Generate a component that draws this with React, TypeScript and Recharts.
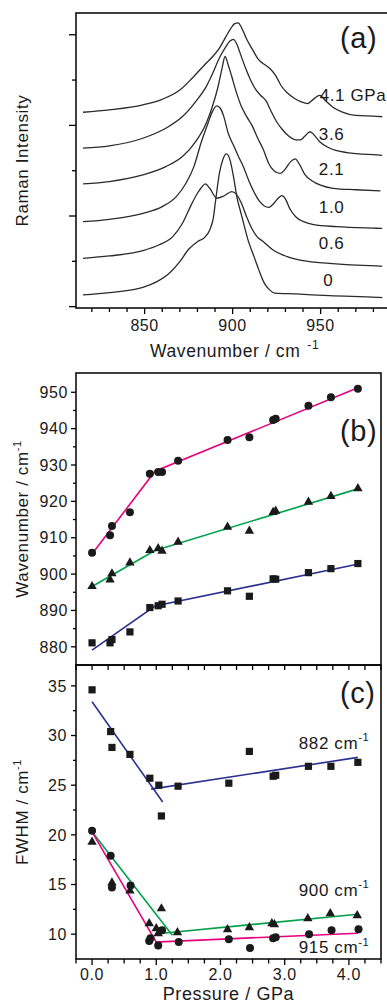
import React from 'react';
import {
  LineChart,
  ComposedChart,
  Line,
  Scatter,
  XAxis,
  YAxis,
  ReferenceArea,
  ReferenceDot,
} from 'recharts';

const FONT = '"Liberation Sans", Arial, Helvetica, sans-serif';
const INK = '#1a1a1a';
const PINK = '#e6007e';
const GREEN = '#00a14b';
const NAVY = '#2b3190';

// ---- (a) Raman spectra, stacked with offsets (wavenumber / cm-1, intensity in offset units)
const spec0Wn = [815, 830, 849, 857, 864, 870, 875, 880, 884, 887, 889, 890.5, 892.5, 894.5, 896.5, 898.5, 900.5, 902.5, 904.5, 906.5, 909, 912, 915, 918, 921, 924, 936, 955, 982, 985];
const spec0Int = [0.13, 0.155, 0.213, 0.276, 0.368, 0.497, 0.633, 0.717, 0.762, 0.846, 0.975, 1.196, 1.472, 1.626, 1.685, 1.62, 1.435, 1.2, 1.05, 0.9, 0.72, 0.56, 0.4, 0.26, 0.185, 0.15, 0.14, 0.121, 0.103, 0.1];

const spec06Wn = [815, 830, 849, 858, 866, 871.5, 876, 880, 883, 884.5, 887, 891, 895, 899.5, 902, 905, 908, 911, 914, 917.5, 923, 931, 940, 955, 982, 985];
const spec06Int = [0.533, 0.559, 0.618, 0.68, 0.773, 0.92, 1.104, 1.251, 1.332, 1.354, 1.306, 1.196, 1.221, 1.27, 1.244, 1.14, 0.99, 0.86, 0.77, 0.717, 0.625, 0.552, 0.508, 0.478, 0.449, 0.447];

const spec10Wn = [815, 830, 849, 860, 868, 873.5, 878, 882, 886, 888.5, 891, 893, 895, 897.5, 900.5, 903, 906, 909, 912, 915, 918, 920.5, 923, 926, 928, 930, 932.5, 936, 940, 946, 959, 982, 985];
const spec10Int = [0.938, 0.964, 1.03, 1.104, 1.214, 1.361, 1.545, 1.803, 2.024, 2.152, 2.215, 2.189, 2.097, 1.913, 1.78, 1.67, 1.55, 1.4, 1.27, 1.17, 1.11, 1.095, 1.13, 1.2, 1.225, 1.19, 1.08, 0.99, 0.94, 0.905, 0.883, 0.865, 0.863];

const spec21Wn = [815, 830, 849, 862, 871.5, 879, 885, 888.5, 891.5, 894, 895.7, 897.5, 899.5, 902, 905, 908, 911, 914, 917.5, 920.5, 923.5, 927, 930, 933, 935.5, 938, 941, 945, 950, 957, 970, 984];
const spec21Int = [1.354, 1.38, 1.453, 1.545, 1.656, 1.821, 2.024, 2.208, 2.41, 2.63, 2.76, 2.667, 2.539, 2.373, 2.208, 2.097, 2.0, 1.87, 1.73, 1.58, 1.5, 1.47, 1.52, 1.6, 1.63, 1.57, 1.46, 1.39, 1.34, 1.306, 1.29, 1.277];

const spec36Wn = [815, 830, 849, 862, 871.5, 879, 885, 888.7, 892.4, 896.2, 898.5, 900.4, 902.3, 904.2, 907, 910, 913, 916, 919, 922, 925, 928, 932, 936, 938.5, 941, 944, 946.5, 949.5, 955, 965, 982, 985];
const spec36Int = [1.748, 1.773, 1.858, 1.968, 2.097, 2.263, 2.428, 2.575, 2.741, 2.87, 2.93, 2.95, 2.9, 2.8, 2.65, 2.51, 2.4, 2.33, 2.27, 2.15, 2.04, 1.96, 1.88, 1.84, 1.84, 1.88, 1.93, 1.89, 1.82, 1.75, 1.7, 1.674, 1.67];

const spec41Wn = [815, 830, 849, 860, 870, 877, 884, 888.7, 892.4, 896.2, 899, 901, 903.2, 905, 908, 911.5, 914.5, 917.5, 921, 924.5, 927.5, 931, 935, 939, 942.5, 946, 949.5, 953, 957, 962, 970, 982, 985];
const spec41Int = [2.145, 2.171, 2.226, 2.288, 2.39, 2.52, 2.667, 2.76, 2.85, 2.98, 3.07, 3.12, 3.13, 3.08, 2.95, 2.83, 2.73, 2.68, 2.63, 2.55, 2.44, 2.36, 2.3, 2.26, 2.24, 2.29, 2.33, 2.27, 2.2, 2.15, 2.11, 2.1, 2.095];

const specLabels = ['0', '0.6', '1.0', '2.1', '3.6', '4.1 GPa'];
const specLabelWn = [951.5, 949, 949, 949, 949, 949.5];
const specLabelInt = [0.29, 0.7, 1.1, 1.52, 1.91, 2.34];

const wnTicks = [820, 830, 840, 850, 860, 870, 880, 890, 900, 910, 920, 930, 940, 950, 960, 970, 980];
const wnMajor = [850, 900, 950];
const intTicks = [0, 0.5, 1, 1.5, 2, 2.5, 3];
const intMajor = [0, 1, 2, 3];

// ---- (b) peak positions vs pressure
const pressB = [0, 0.28, 0.31, 0.59, 0.9, 1.03, 1.09, 1.34, 2.11, 2.45, 2.82, 2.86, 3.37, 3.72, 4.14];
const pos915 = [905.9, 910.7, 913.2, 917.0, 927.6, 928.1, 928.1, 931.2, 936.9, 937.6, 942.4, 942.7, 946.3, 948.6, 951.0];
const pos900 = [896.7, 898.5, 900.2, 903.2, 906.6, 907.1, 906.4, 908.9, 913.0, 911.9, 917.1, 917.4, 919.9, 921.5, 923.6];
const pos882 = [881.1, 881.1, 882.0, 884.1, 890.8, 891.3, 891.7, 892.6, 895.4, 893.9, 898.7, 898.6, 900.4, 901.5, 902.9];

const fitP = [0, 0.98, 4.15];
const fit915 = [905.5, 928.3, 951.3];
const fit900 = [896.6, 906.5, 923.5];
const fit882 = [879.1, 891.2, 902.8];

const posTicks = [880, 885, 890, 895, 900, 905, 910, 915, 920, 925, 930, 935, 940, 945, 950];
const posMajor = [880, 890, 900, 910, 920, 930, 940, 950];

// ---- (c) FWHM vs pressure
const pressW882 = [0, 0.29, 0.31, 0.59, 0.9, 1.04, 1.08, 1.34, 2.13, 2.45, 2.82, 2.86, 3.37, 3.72, 4.14];
const fwhm882 = [34.6, 30.4, 28.8, 28.1, 25.7, 25.0, 21.9, 24.9, 25.2, 28.4, 25.9, 26.0, 26.9, 26.9, 27.3];
const pressW900 = [0, 0.31, 0.59, 0.89, 1.0, 1.03, 1.08, 1.33, 2.11, 2.45, 2.8, 2.84, 3.36, 3.71, 4.13];
const fwhm900 = [19.3, 15.2, 14.4, 11.1, 10.6, 10.1, 12.6, 10.2, 10.5, 10.7, 11.1, 11.0, 11.6, 12.1, 11.9];
const pressW915 = [0, 0.29, 0.31, 0.6, 0.89, 0.91, 1.03, 1.09, 1.35, 2.13, 2.46, 2.82, 2.86, 3.38, 3.73, 4.15];
const fwhm915 = [20.4, 17.9, 14.7, 14.9, 9.3, 9.6, 8.85, 10.4, 9.2, 9.5, 8.6, 9.6, 9.7, 10.0, 10.4, 10.5];

const seg882aP = [0, 1.1];
const seg882a = [33.4, 23.3];
const seg882bP = [0.92, 4.14];
const seg882b = [24.6, 27.8];
const seg900aP = [0, 1.25];
const seg900a = [20.3, 9.9];
const seg900bP = [1.1, 4.14];
const seg900b = [10.1, 12.0];
const seg915aP = [0, 1.0];
const seg915a = [20.3, 9.2];
const seg915bP = [0.98, 4.14];
const seg915b = [9.2, 10.1];

const fwhmTicks = [10, 12.5, 15, 17.5, 20, 22.5, 25, 27.5, 30, 32.5, 35];
const fwhmMajor = [10, 15, 20, 25, 30, 35];
const pTicks = [-0.25, 0, 0.25, 0.5, 0.75, 1, 1.25, 1.5, 1.75, 2, 2.25, 2.5, 2.75, 3, 3.25, 3.5, 3.75, 4, 4.25, 4.5];
const pMajor = [0, 1, 2, 3, 4];

const zip = (xs: number[], ys: number[], xk: string) => xs.map((x, i) => ({ [xk]: x, v: ys[i] }));

const spectra = [
  zip(spec0Wn, spec0Int, 'w'),
  zip(spec06Wn, spec06Int, 'w'),
  zip(spec10Wn, spec10Int, 'w'),
  zip(spec21Wn, spec21Int, 'w'),
  zip(spec36Wn, spec36Int, 'w'),
  zip(spec41Wn, spec41Int, 'w'),
];

const isIn = (arr: number[], v: number) => arr.some(m => Math.abs(m - v) < 1e-6);

const textStyle = { fontFamily: FONT, fill: INK, letterSpacing: 0.6 } as const;

// axis ticks drawn by hand so majors and minors can have different lengths
const leftTick = (majors: number[], labelled: boolean, majorLen: number, minorLen: number, gap: number, fmt: (v: number) => string) =>
  (props: any) => {
    const { x, y, payload } = props;
    const v = payload.value;
    const major = isIn(majors, v);
    const len = major ? majorLen : minorLen;
    return (
      <g>
        <line x1={x} x2={x - len} y1={y} y2={y} stroke="#000" strokeWidth={1.3} />
        {major && labelled ? (
          <text x={x - majorLen - gap} y={y} dy="0.36em" textAnchor="end" fontSize={16} {...textStyle}>
            {fmt(v)}
          </text>
        ) : null}
      </g>
    );
  };

const bottomTick = (majors: number[], labelled: boolean, majorLen: number, minorLen: number, gap: number, fmt: (v: number) => string) =>
  (props: any) => {
    const { x, y, payload } = props;
    const v = payload.value;
    const major = isIn(majors, v);
    const len = major ? majorLen : minorLen;
    return (
      <g>
        <line x1={x} x2={x} y1={y} y2={y + len} stroke="#000" strokeWidth={1.3} />
        {major && labelled ? (
          <text x={x} y={y + majorLen + gap} dy="0.72em" textAnchor="middle" fontSize={16} {...textStyle}>
            {fmt(v)}
          </text>
        ) : null}
      </g>
    );
  };

const yTitle = (text: string, sup?: string) => (props: any) => {
  const vb = props.viewBox;
  const cx = vb.x + 22;
  const cy = vb.y + vb.height / 2;
  return (
    <text x={cx} y={cy} dy="0.36em" textAnchor="middle" transform={`rotate(-90 ${cx} ${cy})`} fontSize={17} {...textStyle}>
      {text}
      {sup ? <tspan dy={-7} fontSize={11}>{sup}</tspan> : null}
    </text>
  );
};

const note = (text: string, size: number, sup?: string) => (props: any) => {
  const { x, y } = props.viewBox;
  return (
    <text x={x} y={y} dy="0.36em" fontSize={size} {...textStyle}>
      {text}
      {sup ? <tspan dy={-size * 0.42} fontSize={size * 0.66}>{sup}</tspan> : null}
    </text>
  );
};

const Dotc = (p: any) => <circle cx={p.cx} cy={p.cy} r={4} fill={INK} />;
const Sq = (p: any) => <rect x={p.cx - 3.6} y={p.cy - 3.6} width={7.2} height={7.2} fill={INK} />;
const Tri = (p: any) => (
  <path d={`M${p.cx},${p.cy - 5.2} L${p.cx + 4.7},${p.cy + 3} L${p.cx - 4.7},${p.cy + 3} Z`} fill={INK} />
);

const SpectraPanel = () => {
  const xTitle = (props: any) => {
    const vb = props.viewBox;
    return (
      <text x={vb.x + 74} y={vb.y + 48.5} fontSize={17.5} {...textStyle}>
        Wavenumber / cm
        <tspan dx={7} dy={-8} fontSize={12}>-1</tspan>
      </text>
    );
  };
  return (
    <LineChart width={400} height={360} margin={{ top: 13, right: 9, bottom: 0, left: 0 }}>
      <XAxis
        type="number"
        dataKey="w"
        domain={[811, 990]}
        allowDataOverflow
        ticks={wnTicks}
        interval={0}
        tickSize={0}
        tickMargin={0}
        tickLine={false}
        axisLine={false}
        tick={bottomTick(wnMajor, true, 6, 4, 5, v => String(v))}
        height={52}
        label={xTitle}
      />
      <YAxis
        type="number"
        domain={[-0.015, 3.24]}
        allowDataOverflow
        ticks={intTicks}
        interval={0}
        tickSize={0}
        tickMargin={0}
        tickLine={false}
        axisLine={false}
        tick={leftTick(intMajor, false, 7, 4, 3, v => String(v))}
        width={76}
        label={yTitle('Raman Intensity')}
      />
      {spectra.map((d, i) => (
        <Line
          key={`spec-${i}`}
          data={d}
          dataKey="v"
          type="monotone"
          stroke="#2a2a2a"
          strokeWidth={1.3}
          dot={false}
          isAnimationActive={false}
        />
      ))}
      {specLabels.map((t, i) => (
        <ReferenceDot
          key={`lab-${i}`}
          x={specLabelWn[i]}
          y={specLabelInt[i]}
          r={0}
          ifOverflow="visible"
          label={note(t, 17)}
        />
      ))}
      <ReferenceDot x={961} y={2.97} r={0} ifOverflow="visible" label={note('(a)', 29)} />
      <ReferenceArea x1={811} x2={990} y1={-0.015} y2={3.24} fill="none" stroke="#000" strokeWidth={1.5} ifOverflow="visible" />
    </LineChart>
  );
};

const PeakPanel = () => (
  <ComposedChart width={387} height={315} margin={{ top: 13, right: 6, bottom: 0, left: 0 }}>
    <XAxis
      type="number"
      dataKey="p"
      domain={[-0.25, 4.5]}
      allowDataOverflow
      ticks={pTicks}
      interval={0}
      tickSize={0}
      tickMargin={0}
      tickLine={false}
      axisLine={false}
      tick={bottomTick([], false, 5, 5, 0, v => String(v))}
      height={10}
    />
    <YAxis
      type="number"
      domain={[875, 955.3]}
      allowDataOverflow
      ticks={posTicks}
      interval={0}
      tickSize={0}
      tickMargin={0}
      tickLine={false}
      axisLine={false}
      tick={leftTick(posMajor, true, 5, 3, 3, v => String(v))}
      width={76}
      label={yTitle('Wavenumber / cm', '-1')}
    />
    <Line data={zip(fitP, fit915, 'p')} dataKey="v" type="linear" stroke={PINK} strokeWidth={1.6} dot={false} isAnimationActive={false} />
    <Line data={zip(fitP, fit900, 'p')} dataKey="v" type="linear" stroke={GREEN} strokeWidth={1.6} dot={false} isAnimationActive={false} />
    <Line data={zip(fitP, fit882, 'p')} dataKey="v" type="linear" stroke={NAVY} strokeWidth={1.6} dot={false} isAnimationActive={false} />
    <Scatter data={zip(pressB, pos915, 'p')} dataKey="v" shape={Dotc} isAnimationActive={false} />
    <Scatter data={zip(pressB, pos900, 'p')} dataKey="v" shape={Tri} isAnimationActive={false} />
    <Scatter data={zip(pressB, pos882, 'p')} dataKey="v" shape={Sq} isAnimationActive={false} />
    <ReferenceDot x={3.86} y={939.6} r={0} ifOverflow="visible" label={note('(b)', 29)} />
    <ReferenceArea x1={-0.25} x2={4.5} y1={875} y2={955.3} fill="none" stroke="#000" strokeWidth={1.5} ifOverflow="visible" />
  </ComposedChart>
);

const WidthPanel = () => {
  const xTitle = (props: any) => {
    const vb = props.viewBox;
    return (
      <text x={vb.x + vb.width / 2} y={vb.y + 41} textAnchor="middle" fontSize={18} {...textStyle}>
        Pressure / GPa
      </text>
    );
  };
  const seg = (p: number[], v: number[], color: string, key: string) => (
    <Line key={key} data={zip(p, v, 'p')} dataKey="v" type="linear" stroke={color} strokeWidth={1.6} dot={false} isAnimationActive={false} />
  );
  return (
    <ComposedChart width={387} height={350} margin={{ top: 10, right: 6, bottom: 0, left: 0 }}>
      <XAxis
        type="number"
        dataKey="p"
        domain={[-0.25, 4.5]}
        allowDataOverflow
        ticks={pTicks}
        interval={0}
        tickSize={0}
        tickMargin={0}
        tickLine={false}
        axisLine={false}
        tick={bottomTick(pMajor, true, 6, 4.5, 3, v => v.toFixed(1))}
        height={46}
        label={xTitle}
      />
      <YAxis
        type="number"
        domain={[7.5, 37.1]}
        allowDataOverflow
        ticks={fwhmTicks}
        interval={0}
        tickSize={0}
        tickMargin={0}
        tickLine={false}
        axisLine={false}
        tick={leftTick(fwhmMajor, true, 5, 3, 4, v => String(v))}
        width={76}
        label={yTitle('FWHM / cm', '-1')}
      />
      {seg(seg882aP, seg882a, NAVY, 's1')}
      {seg(seg882bP, seg882b, NAVY, 's2')}
      {seg(seg900aP, seg900a, GREEN, 's3')}
      {seg(seg900bP, seg900b, GREEN, 's4')}
      {seg(seg915aP, seg915a, PINK, 's5')}
      {seg(seg915bP, seg915b, PINK, 's6')}
      <Scatter data={zip(pressW882, fwhm882, 'p')} dataKey="v" shape={Sq} isAnimationActive={false} />
      <Scatter data={zip(pressW900, fwhm900, 'p')} dataKey="v" shape={Tri} isAnimationActive={false} />
      <Scatter data={zip(pressW915, fwhm915, 'p')} dataKey="v" shape={Dotc} isAnimationActive={false} />
      <ReferenceDot x={3.22} y={29.3} r={0} ifOverflow="visible" label={note('882 cm', 17, '-1')} />
      <ReferenceDot x={3.22} y={14.5} r={0} ifOverflow="visible" label={note('900 cm', 17, '-1')} />
      <ReferenceDot x={3.22} y={8.7} r={0} ifOverflow="visible" label={note('915 cm', 17, '-1')} />
      <ReferenceDot x={3.86} y={34.3} r={0} ifOverflow="visible" label={note('(c)', 29)} />
      <ReferenceArea x1={-0.25} x2={4.5} y1={7.5} y2={37.1} fill="none" stroke="#000" strokeWidth={1.5} ifOverflow="visible" />
    </ComposedChart>
  );
};

export default function App() {
  return (
    <div
      style={{
        position: 'absolute',
        left: 0,
        top: 0,
        width: 387,
        height: 1005,
        overflow: 'hidden',
        background: '#fff',
        fontFamily: FONT,
      }}
    >
      <div style={{ position: 'absolute', left: 0, top: 0 }}>
        <SpectraPanel />
      </div>
      <div style={{ position: 'absolute', left: 0, top: 360 }}>
        <PeakPanel />
      </div>
      <div style={{ position: 'absolute', left: 0, top: 655 }}>
        <WidthPanel />
      </div>
    </div>
  );
}
